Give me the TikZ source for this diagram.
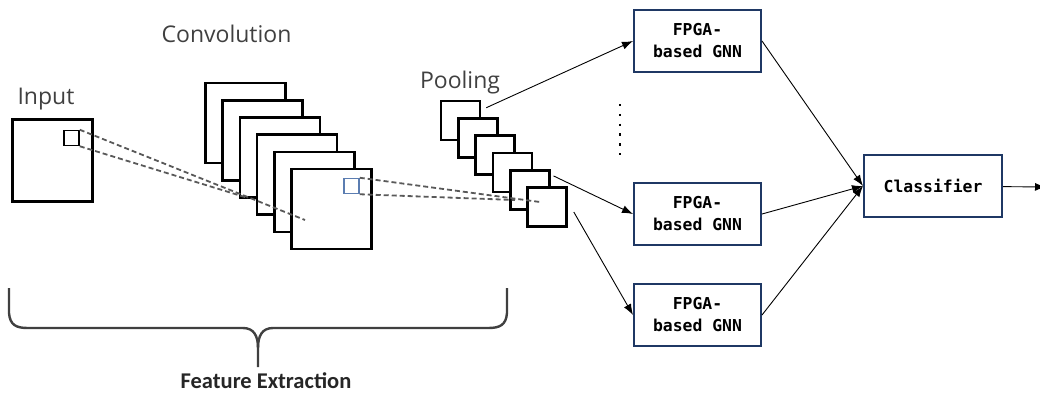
\documentclass[tikz,border=0pt]{standalone}
\usepackage{fontspec}
\setmainfont{Open Sans}
\newfontfamily\calfont{Carlito}
\newfontfamily\monofont{DejaVu Sans Mono}
\usetikzlibrary{arrows.meta}
\definecolor{azulbox}{HTML}{1F3864}
\definecolor{azulparche}{HTML}{5B7DB1}
\definecolor{gristexto}{HTML}{404040}
\begin{document}
\begin{tikzpicture}[x=1pt, y=-1pt,
        capa/.style={draw, line width=2.6pt, fill=white, minimum size=80pt, inner sep=0pt},
        mapa/.style={draw, line width=2.6pt, fill=white, minimum size=39pt, inner sep=0pt},
        parche/.style={draw, line width=1.5pt, minimum size=15pt, inner sep=0pt},
        etiqueta/.style={text=gristexto, font=\fontsize{23}{27}\selectfont, anchor=base},
        bloque/.style={draw=azulbox, line width=2pt, align=center, minimum width=127pt,
        minimum height=62pt, font=\monofont\bfseries\fontsize{16.4}{22}\selectfont},
        flecha/.style={line width=0.9pt, -{Latex[length=11pt,width=8pt]}},
        punteada/.style={draw=black!65, line width=1.8pt, dash pattern=on 5pt off 3pt}
    ]
        \useasboundingbox (0,0) rectangle (1040,392);
        % etiquetas
        \node[etiqueta] (tentrada) at (46,104) {Input};
        \node[etiqueta] (tconv) at (226.5,42) {Convolution};
        \node[etiqueta] (tpool) at (460,88) {Pooling};
        % entrada
        \node[capa, minimum height=82pt] (entrada) at (52.5,160.5) {};
        \node[parche] (pentrada) at (71.5,138) {};
        % convolucion
        \node[capa] (conv1) at (245.5,123) {};
        \node[capa] (conv2) at (262.7,140.2) {};
        \node[capa] (conv3) at (279.9,157.4) {};
        \node[capa] (conv4) at (297.1,174.6) {};
        \node[capa] (conv5) at (314.3,191.8) {};
        \node[capa] (conv6) at (331.5,209) {};
        \node[parche, draw=azulparche] (pconv) at (351.5,186) {};
        % pooling
        \node[mapa] (pool1) at (460.5,120.5) {};
        \node[mapa] (pool2) at (477.8,137.8) {};
        \node[mapa] (pool3) at (495.1,155.1) {};
        \node[mapa] (pool4) at (512.4,172.4) {};
        \node[mapa] (pool5) at (529.7,189.7) {};
        \node[mapa] (pool6) at (547,207) {};
        % lineas punteadas
        \coordinate (fin1) at (305,220);
        \coordinate (fin2) at (248,198);
        \coordinate (fin3) at (540,202);
        \coordinate (fin4) at (515,200);
        \draw[punteada] (pentrada.north east) -- (fin1);
        \draw[punteada] (pentrada.south east) -- (fin2);
        \draw[punteada] (pconv.north east) -- (fin3);
        \draw[punteada] (pconv.south east) -- (fin4);
        % GNN y clasificador
        \node[bloque] (gnn1) at (697.5,41) {FPGA-\\based GNN};
        \node[bloque] (gnn2) at (697.5,214) {FPGA-\\based GNN};
        \node[bloque] (gnn3) at (697.5,315) {FPGA-\\based GNN};
        \node[bloque, minimum width=138pt] (clasif) at (933,186) {Classifier};
        \coordinate (salida) at (1046,187);
        \draw[line width=2.4pt, dash pattern=on 2.4pt off 7.4pt] (620,104) -- (620,156);
        \draw[flecha] ([shift={(5,8)}]pool1.north east) -- (gnn1.west);
        \draw[flecha] ([shift={(3,7)}]pool5.north east) -- (gnn2.west);
        \draw[flecha] ([shift={(6,5)}]pool6.east) -- (gnn3.west);
        \draw[flecha] (gnn1.east) -- (clasif.west);
        \draw[flecha] (gnn2.east) -- (clasif.west);
        \draw[flecha] (gnn3.east) -- (clasif.west);
        \draw[flecha] (clasif) -- (salida);
        % llave
        \draw[line width=2.4pt, black!75] (9,288) -- (9,313) .. controls (10,325) and (16,328) .. (28,328)
            -- (243,328) .. controls (254,328) and (258,336) .. (258,348) -- (258,367);
        \draw[line width=2.4pt, black!75] (507,288) -- (507,313) .. controls (506,325) and (500,328) .. (488,328)
            -- (273,328) .. controls (262,328) and (258,336) .. (258,348);
        \node[font=\calfont\bfseries\fontsize{22.5}{26}\selectfont, anchor=base, text=black!85] (rotulo)
            at (266,388) {Feature Extraction};
    \end{tikzpicture}
\end{document}
